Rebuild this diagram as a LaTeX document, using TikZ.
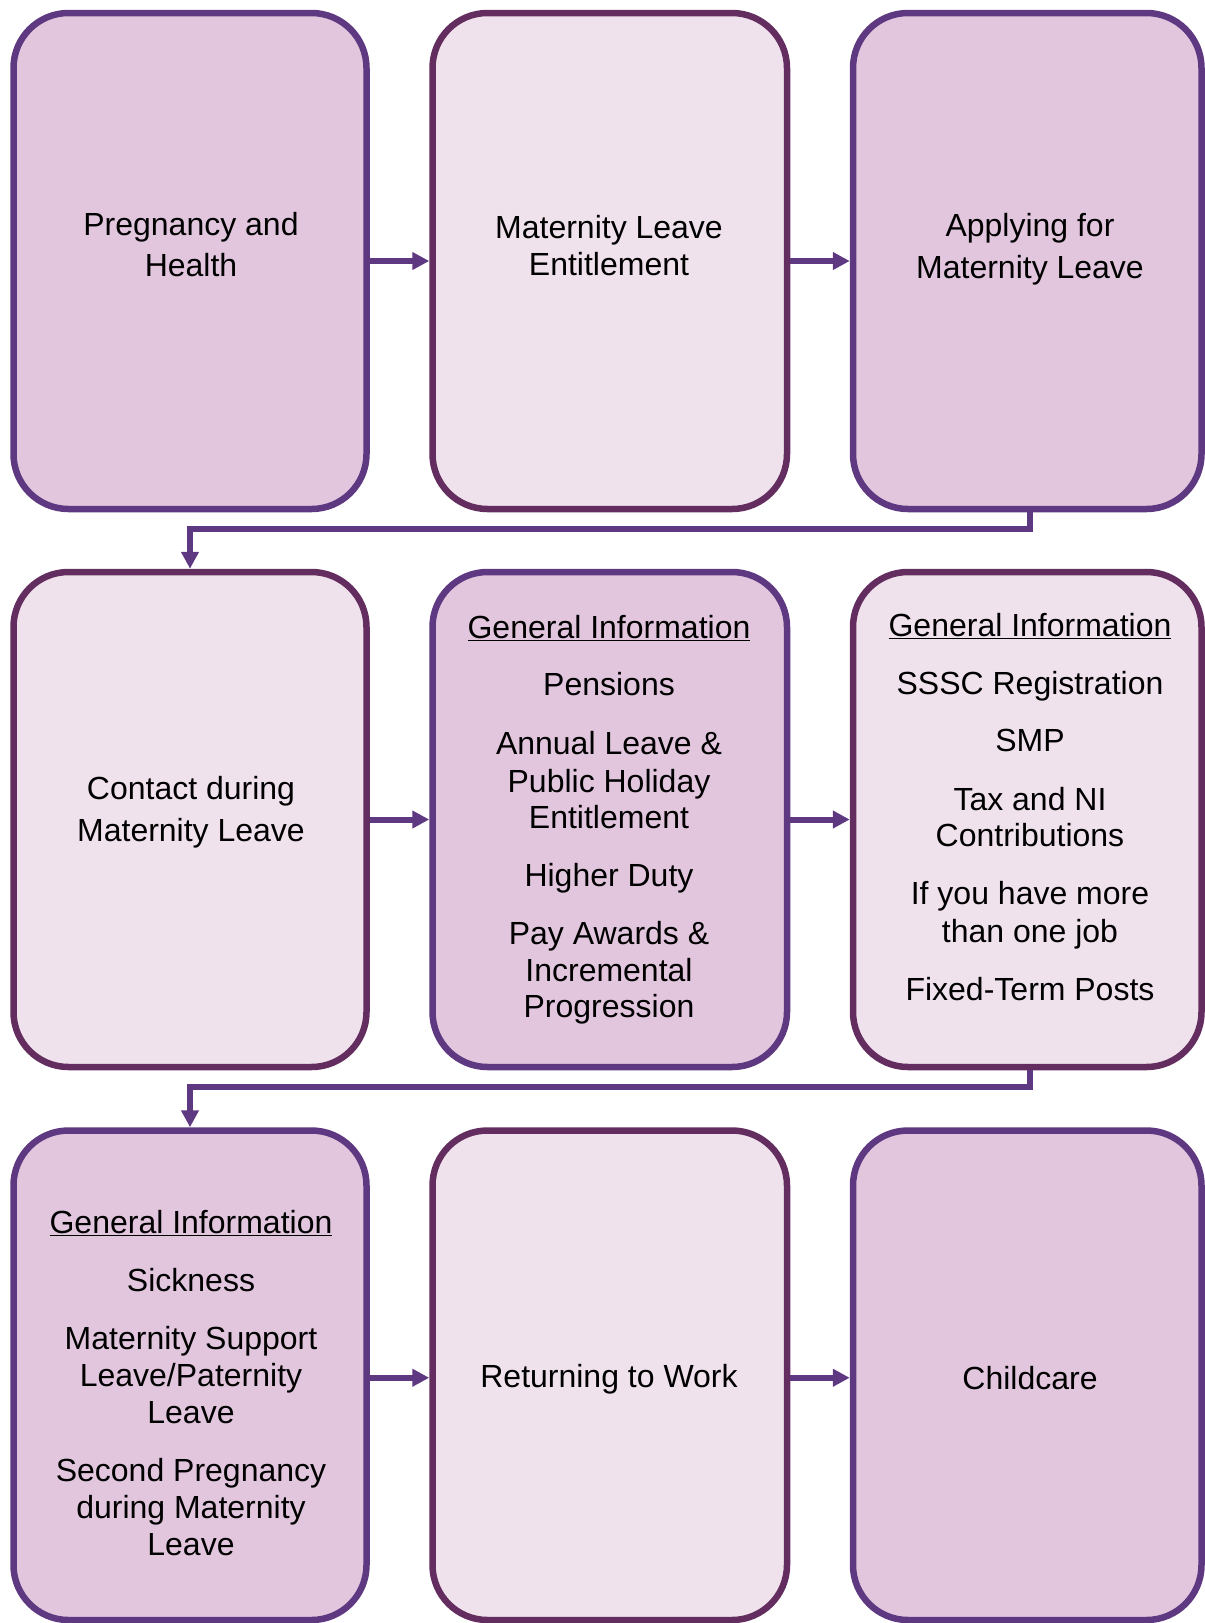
\documentclass[tikz,border=0pt]{standalone}
\usepackage{fontspec}
\setmainfont{Liberation Sans}
\usetikzlibrary{arrows.meta}
\definecolor{fdark}{HTML}{E2C6DE}
\definecolor{flight}{HTML}{F0E2ED}
\definecolor{bpurple}{HTML}{5E3880}
\definecolor{bmaroon}{HTML}{642D5F}
\tikzset{
  boxbase/.style={rectangle, rounded corners=55pt, line width=6.5pt, inner sep=0pt},
  darkbox/.style={boxbase, draw=bpurple, fill=fdark},
  lightbox/.style={boxbase, draw=bmaroon, fill=flight},
  conn/.style={draw=bpurple, line width=6pt, -{Triangle[length=17pt,width=17pt]}},
  lbl/.style={anchor=base, inner sep=0pt, font=\fontsize{32}{37}\selectfont, yshift=-3.5pt}
}
\newcommand{\tl}[4]{\node[lbl] (#1) at (#2,#3) {#4};}
\begin{document}
\begin{tikzpicture}[x=1pt,y=-1pt]
\useasboundingbox (0,0) rectangle (1205,1623);
% row 1
\node[darkbox, minimum width=353pt, minimum height=496pt] (b1) at (190,261) {};
\node[lightbox, minimum width=354.5pt, minimum height=496pt] (b2) at (609.75,261) {};
\node[darkbox, minimum width=348.5pt, minimum height=496pt] (b3) at (1027.25,261) {};
% row 2
\node[lightbox, minimum width=353pt, minimum height=495pt] (b4) at (190,819.5) {};
\node[darkbox, minimum width=354.5pt, minimum height=495pt] (b5) at (609.75,819.5) {};
\node[lightbox, minimum width=348.5pt, minimum height=495pt] (b6) at (1027.25,819.5) {};
% row 3
\node[darkbox, minimum width=353pt, minimum height=489.5pt] (b7) at (190,1375.25) {};
\node[lightbox, minimum width=354.5pt, minimum height=489.5pt] (b8) at (609.75,1375.25) {};
\node[darkbox, minimum width=348.5pt, minimum height=489.5pt] (b9) at (1027.25,1375.25) {};
% connectors
\draw[conn] (b1.east) -- (b2.west);
\draw[conn] (b2.east) -- (b3.west);
\draw[conn] ([xshift=2.75pt]b3.south) -- ++(0,16.5) -| (b4.north);
\draw[conn] (b4.east) -- (b5.west);
\draw[conn] (b5.east) -- (b6.west);
\draw[conn] ([xshift=2.75pt]b6.south) -- ++(0,17) -| (b7.north);
\draw[conn] ([yshift=-2.5pt]b7.east) -- ([yshift=-2.5pt]b8.west);
\draw[conn] ([yshift=-2.5pt]b8.east) -- ([yshift=-2.5pt]b9.west);
% texts box 1-3
\tl{t1a}{191}{231.6}{Pregnancy and}
\tl{t1b}{191}{273}{Health}
\tl{t2a}{609}{234.7}{Maternity Leave}
\tl{t2b}{609}{272}{Entitlement}
\tl{t3a}{1030}{232.6}{Applying for}
\tl{t3b}{1030}{275}{Maternity Leave}
% box 4
\tl{t4a}{191}{795.8}{Contact during}
\tl{t4b}{191}{838.2}{Maternity Leave}
% box 5
\tl{t5a}{609}{635.3}{\underline{General Information}}
\tl{t5b}{609}{692}{Pensions}
\tl{t5c}{609}{751.3}{Annual Leave \&}
\tl{t5d}{609}{788.5}{Public Holiday}
\tl{t5e}{609}{824.8}{Entitlement}
\tl{t5f}{609}{882.7}{Higher Duty}
\tl{t5g}{609}{940.7}{Pay Awards \&}
\tl{t5h}{609}{978}{Incremental}
\tl{t5i}{609}{1014.2}{Progression}
% box 6
\tl{t6a}{1030}{633.3}{\underline{General Information}}
\tl{t6b}{1030}{691.2}{SSSC Registration}
\tl{t6c}{1030}{748.2}{SMP}
\tl{t6d}{1030}{807.2}{Tax and NI}
\tl{t6e}{1030}{843.4}{Contributions}
\tl{t6f}{1030}{901.4}{If you have more}
\tl{t6g}{1030}{938.6}{than one job}
\tl{t6h}{1030}{996.6}{Fixed-Term Posts}
% box 7
\tl{t7a}{191}{1229.5}{\underline{General Information}}
\tl{t7b}{191}{1287.5}{Sickness}
\tl{t7c}{191}{1345.5}{Maternity Support}
\tl{t7d}{191}{1382.7}{Leave/Paternity}
\tl{t7e}{191}{1420}{Leave}
\tl{t7f}{191}{1478}{Second Pregnancy}
\tl{t7g}{191}{1515.3}{during Maternity}
\tl{t7h}{191}{1551.5}{Leave}
% box 8, 9
\tl{t8a}{609}{1383.8}{Returning to Work}
\tl{t9a}{1030}{1385.9}{Childcare}
\end{tikzpicture}
\end{document}
